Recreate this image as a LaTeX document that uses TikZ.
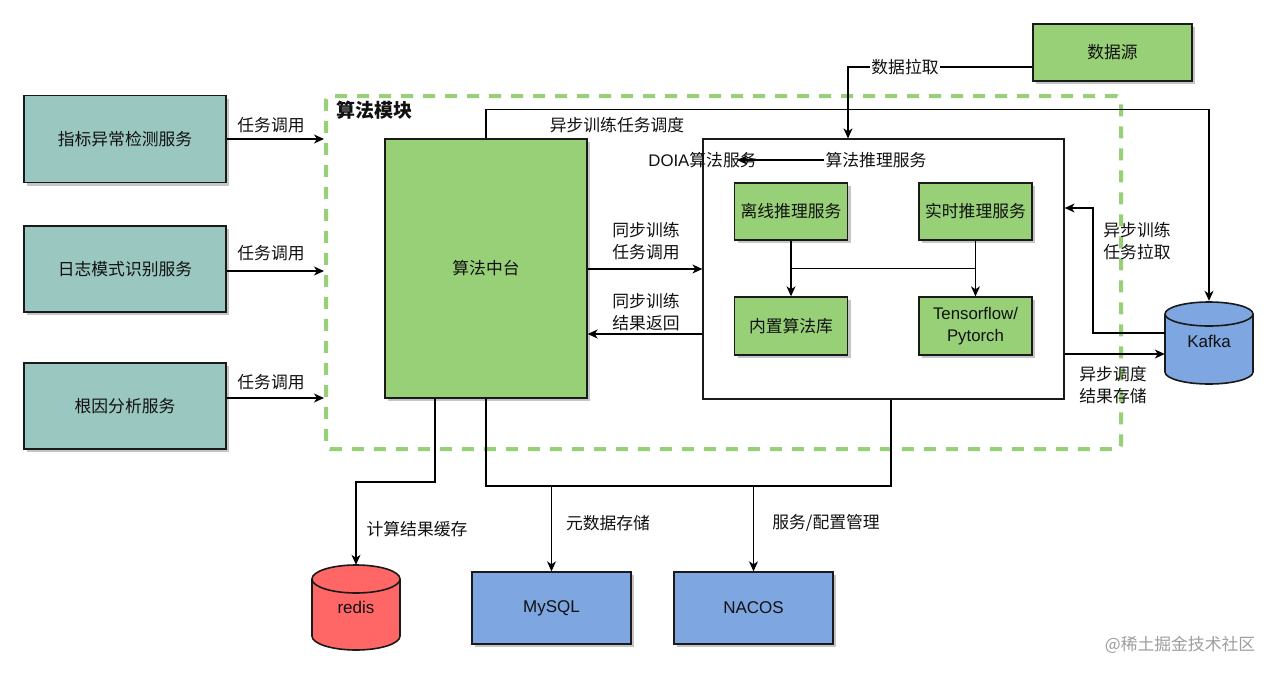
\documentclass[tikz,border=0pt]{standalone}
\usepackage{fontspec}
\setmainfont{Noto Sans CJK SC}
\newfontfamily\lat{Liberation Sans}
\usetikzlibrary{arrows.meta,shadows,calc}
\definecolor{teal0}{HTML}{9AC7BF}
\definecolor{green0}{HTML}{97D077}
\definecolor{blue0}{HTML}{7EA6E0}
\definecolor{red0}{HTML}{FF6666}
\definecolor{gdash}{HTML}{97D077}
\definecolor{bord}{HTML}{1A1A1A}
\definecolor{txt}{HTML}{111111}
\begin{document}
\begin{tikzpicture}[x=1pt,y=-1pt,
  every node/.style={text=txt},
  lbl/.style={font=\fontsize{16.8}{22}\selectfont, align=center, inner sep=1pt},
  box/.style={draw=bord, line width=1.4pt, align=center, inner sep=0pt,
    font=\fontsize{16.8}{22}\selectfont,
    drop shadow={shadow xshift=3pt, shadow yshift=-3pt, fill=black!45, opacity=0.5}},
  arr/.style={draw=black, line width=1.2pt, -{Stealth[length=10pt,width=9pt,inset=3pt]}},
  ln/.style={draw=black, line width=1.2pt},
  cyl/.style={draw=bord, line width=1.6pt},
]
\fill[white] (0,0) rectangle (1280,677);
\useasboundingbox (0,0) rectangle (1280,677);

% dashed module frame
\node[draw=gdash, line width=4pt, dash pattern=on 12pt off 10pt, rounded corners=4pt,
  minimum width=795pt, minimum height=353pt, inner sep=0pt] (module) at (723.5,272.5) {};
\node[font=\bfseries\fontsize{19}{22}\selectfont, anchor=west, inner sep=0pt] (modlbl) at (336,110) {算法模块};

% left services
\node[box, fill=teal0, minimum width=202pt, minimum height=87pt] (m1) at (125,139) {指标异常检测服务};
\node[box, fill=teal0, minimum width=202pt, minimum height=86pt] (m2) at (125,269) {日志模式识别服务};
\node[box, fill=teal0, minimum width=202pt, minimum height=86pt] (m3) at (125,406) {根因分析服务};

\draw[arr] (m1.east |- 0,139) -- (module.west |- 0,139);
\draw[arr] (m2.east |- 0,271) -- (module.west |- 0,271);
\draw[arr] (m3.east |- 0,398) -- (module.west |- 0,398);
\node[lbl] (t1) at (271,125) {任务调用};
\node[lbl] (t2) at (271,253) {任务调用};
\node[lbl] (t3) at (271,382) {任务调用};

% central platform
\node[box, fill=green0, minimum width=202pt, minimum height=259pt] (zt) at (486,268.5) {算法中台};

% DOIA service box
\node[draw=bord, line width=1.2pt, fill=white, minimum width=361pt, minimum height=260pt, inner sep=0pt] (doia) at (883.5,269) {};
\node[lbl] (doialbl) at (702.5,160) {{\lat DOIA}算法服务};
\node[lbl] (tuili) at (876,160) {算法推理服务};
\coordinate (tuilitip) at (737,161);
\draw[arr] (tuili.west) -- (tuilitip |- tuili.west);

\node[box, fill=green0, minimum width=113pt, minimum height=57pt] (lx) at (791,211.5) {离线推理服务};
\node[box, fill=green0, minimum width=113pt, minimum height=57pt] (ss) at (975.5,211.5) {实时推理服务};
\node[box, fill=green0, minimum width=113pt, minimum height=58pt] (nz) at (791,326) {内置算法库};
\node[box, fill=green0, minimum width=113pt, minimum height=58pt, font=\lat\fontsize{16.8}{22}\selectfont] (tf) at (975.5,326) {Tensorflow/\\Pytorch};
\draw[arr] (lx) -- (nz);
\draw[arr] (ss) -- (tf);
\draw[ln] ($(lx.south)!0.5!(nz.north)$) -- ($(ss.south)!0.5!(tf.north)$);

% sync calls
\draw[arr] (zt.east |- 0,269) -- (doia.west |- 0,269);
\node[lbl] (syn1) at (646,241) {同步训练\\任务调用};
\draw[arr] (doia.west |- 0,334) -- (zt.east |- 0,334);
\node[lbl] (syn2) at (646,312) {同步训练\\结果返回};

% Kafka
\path[fill=blue0, cyl] (1165,314) -- (1165,372) arc[start angle=180,end angle=360,x radius=44pt,y radius=12pt]
  -- (1253,314) arc[start angle=0,end angle=180,x radius=44pt,y radius=12pt] -- cycle;
\draw[cyl] (1165,314) arc[start angle=180,end angle=360,x radius=44pt,y radius=12pt];
\node[minimum width=88pt, minimum height=80pt, inner sep=0pt, font=\lat\fontsize{17}{20}\selectfont] (kafka) at (1209,341) {Kafka};

\draw[arr] (zt.north) -- ++(0,-29) -| (kafka.north);
\node[lbl] (async1) at (617,125) {异步训练任务调度};
\draw[arr] (kafka.west |- 0,333) -- (1093,333) |- (doia.east |- 0,208);
\node[lbl] (async2) at (1137,241) {异步训练\\任务拉取};
\draw[arr] (doia.east |- 0,354) -- (kafka.west |- 0,354);
\node[lbl] (async3) at (1113,385) {异步调度\\结果存储};

% data source
\node[box, fill=green0, minimum width=159pt, minimum height=57pt] (src) at (1112.5,52.5) {数据源};
\draw[arr] (src.west |- 0,67) -| (doia.north -| 848,0);
\node[lbl, fill=white] (pull) at (905,67) {数据拉取};

% redis
\path[fill=red0, cyl] (312,579) -- (312,636) arc[start angle=180,end angle=360,x radius=44pt,y radius=14pt]
  -- (400,579) arc[start angle=0,end angle=180,x radius=44pt,y radius=14pt] -- cycle;
\draw[cyl] (312,579) arc[start angle=180,end angle=360,x radius=44pt,y radius=14pt];
\node[minimum width=88pt, minimum height=85pt, inner sep=0pt, font=\lat\fontsize{17}{20}\selectfont] (redis) at (356,607.5) {redis};

\node[box, fill=blue0, minimum width=159pt, minimum height=72pt, font=\lat\fontsize{17}{20}\selectfont] (mysql) at (551.5,608) {MySQL};
\node[box, fill=blue0, minimum width=159pt, minimum height=72pt, font=\lat\fontsize{17}{20}\selectfont] (nacos) at (753.5,608) {NACOS};

\draw[arr] (zt.south -| 435,0) |- (redis.north |- 0,482) -- (redis.north);
\node[lbl] (cache) at (417,529) {计算结果缓存};
\draw[ln] (zt.south) |- (891,486) -- (doia.south -| 891,0);
\draw[arr] (mysql.north |- 0,486) -- (mysql.north);
\draw[arr] (nacos.north |- 0,486) -- (nacos.north);
\node[lbl] (meta) at (608,523) {元数据存储};
\node[lbl] (cfg) at (826,523) {服务/配置管理};

\node[text=black!38, font=\fontsize{16.8}{20}\selectfont] (wm) at (1180,645) {@稀土掘金技术社区};
\end{tikzpicture}
\end{document}
